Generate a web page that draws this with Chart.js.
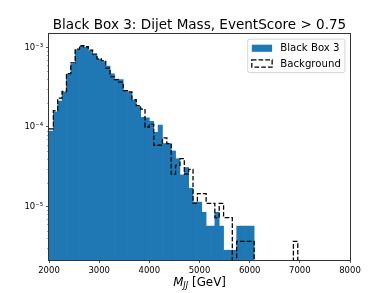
<!DOCTYPE html>
<html>
<head>
<meta charset="utf-8">
<script src="https://cdn.jsdelivr.net/npm/chart.js@4.4.0/dist/chart.umd.min.js"></script>
<style>
  html, body { margin: 0; padding: 0; background: #fff; }
  #wrap { width: 390px; height: 293px; }
</style>
</head>
<body>
<div id="wrap"><canvas id="chart" width="390" height="293"></canvas></div>
<script>
// ─── DATA ─────────────────────────────────────────────────
const titleText = 'Black Box 3: Dijet Mass, EventScore > 0.75';
const seriesLabels = ['Black Box 3', 'Background'];

// histogram bin edges in GeV (87 GeV wide)
const binEdges = [
    2000, 2087, 2174, 2261, 2348, 2435, 2522, 2609, 2696, 2783,
    2870, 2957, 3044, 3131, 3218, 3305, 3392, 3479, 3566, 3653,
    3740, 3827, 3914, 4001, 4088, 4175, 4262, 4349, 4436, 4523,
    4610, 4697, 4784, 4871, 4958, 5045, 5132, 5219, 5306, 5393,
    5480, 5567, 5654, 5741, 5828, 5915, 6002, 6089, 6176, 6263,
    6350, 6437, 6524, 6611, 6698, 6785, 6872, 6959
];

// normalised counts per bin
const blackBox = [
    8.9e-5, 1.55e-4, 2.12e-4, 2.75e-4, 4.61e-4, 6.18e-4, 9.33e-4, 1.026e-3, 1.003e-3, 9.07e-4,
    8.08e-4, 7.10e-4, 6.61e-4, 5.81e-4, 4.64e-4, 3.99e-4, 3.94e-4, 2.87e-4, 2.67e-4, 2.18e-4,
    1.81e-4, 1.32e-4, 1.30e-4, 1.18e-4, 8.6e-5, 1.06e-4, 6.2e-5, 6.2e-5, 5.0e-5, 4.0e-5,
    2.5e-5, 3.1e-5, 1.7e-5, 1.14e-5, 1.14e-5, 8.5e-6, 5.7e-6, 5.7e-6, 8.5e-6, 5.7e-6,
    2.84e-6, 2.84e-6, 2.84e-6, 5.7e-6, 5.7e-6, 5.7e-6, 5.7e-6, 0, 0, 0,
    0, 0, 0, 0, 0, 0, 0
];
const background = [
    9.47e-5, 1.61e-4, 2.30e-4, 2.79e-4, 4.68e-4, 6.36e-4, 9.52e-4, 1.047e-3, 1.017e-3, 9.25e-4,
    8.24e-4, 7.14e-4, 6.80e-4, 5.48e-4, 4.29e-4, 3.94e-4, 3.66e-4, 2.87e-4, 2.75e-4, 2.21e-4,
    1.86e-4, 1.68e-4, 1.00e-4, 1.08e-4, 5.9e-5, 5.9e-5, 7.3e-5, 6.2e-5, 2.56e-5, 3.3e-5,
    4.0e-5, 2.56e-5, 2.93e-5, 1.10e-5, 1.46e-5, 1.46e-5, 1.10e-5, 1.10e-5, 7.3e-6, 1.10e-5,
    7.3e-6, 7.3e-6, 0, 3.66e-6, 3.66e-6, 3.66e-6, 3.66e-6, 0, 0, 0,
    0, 0, 0, 0, 0, 0, 3.66e-6
];

const xTicks = [2000, 3000, 4000, 5000, 6000, 7000, 8000];
const yMajorTicks = [1e-5, 1e-4, 1e-3];
const Y_MIN = 2.14e-6, Y_MAX = 1.47e-3;

// ─── STYLE ────────────────────────────────────────────────
const BLUE = '#1f77b4';
const PT = 61 / 72;              // matplotlib points -> px at this size
const FONT = "'DejaVu Sans'";
const LW = 1.5 * PT;
const DASH = [3.7 * LW, 1.6 * LW];

Chart.defaults.font.family = FONT;
Chart.defaults.color = '#000';

const FLOOR = Y_MIN / 10;        // empty bins fall below the axis
const sup = { '-': '\u207B', '0': '\u2070', '1': '\u00B9', '2': '\u00B2', '3': '\u00B3', '4': '\u2074', '5': '\u2075', '6': '\u2076', '7': '\u2077', '8': '\u2078', '9': '\u2079' };
const expLabel = v => '10' + String(Math.round(Math.log10(v))).split('').map(c => sup[c]).join('');

const barData = blackBox.map((v, i) => ({
    x: (binEdges[i] + binEdges[i + 1]) / 2,
    y: v > 0 ? v : null,
}));
const stepData = background.map((v, i) => ({ x: binEdges[i], y: v > 0 ? v : FLOOR }));
stepData.push({ x: binEdges[binEdges.length - 1], y: FLOOR });

// title, axis label, minor ticks, frame and legend
const decor = {
    id: 'decor',
    afterDraw(chart) {
        const { ctx, chartArea: a } = chart;
        const yScale = chart.scales.y;
        const cx = (a.left + a.right) / 2;
        ctx.save();

        // minor log ticks
        ctx.strokeStyle = '#000';
        ctx.lineWidth = 0.6 * PT;
        for (let d = -6; d <= -3; d++) {
            for (let m = 2; m <= 9; m++) {
                const v = m * Math.pow(10, d);
                if (v < Y_MIN || v > Y_MAX) continue;
                const y = Math.round(yScale.getPixelForValue(v)) + 0.5;
                ctx.beginPath();
                ctx.moveTo(a.left - 2 * PT, y);
                ctx.lineTo(a.left, y);
                ctx.stroke();
            }
        }

        // frame
        ctx.strokeStyle = '#333';
        ctx.lineWidth = 1;
        ctx.strokeRect(a.left - 0.5, a.top - 0.5, a.right - a.left + 1, a.bottom - a.top + 1);

        // title
        ctx.fillStyle = '#000';
        ctx.textAlign = 'left';
        ctx.textBaseline = 'alphabetic';
        ctx.font = `${16 * PT}px ${FONT}`;
        const tw = ctx.measureText(titleText).width;
        ctx.fillText(titleText, cx - tw / 2, a.top - 5);

        // x axis label  M_JJ [GeV]
        const fs = 14 * PT;
        const fM = `italic ${fs}px ${FONT}`, fSub = `italic ${fs * 0.7}px ${FONT}`, fReg = `${fs}px ${FONT}`;
        ctx.font = fM; const wM = ctx.measureText('M').width;
        ctx.font = fSub; const wS = ctx.measureText('JJ').width;
        ctx.font = fReg; const wR = ctx.measureText(' [GeV]').width;
        let x0 = cx - (wM + wS + wR) / 2;
        const base = 285.5;
        ctx.font = fM; ctx.fillText('M', x0, base); x0 += wM;
        ctx.font = fSub; ctx.fillText('JJ', x0, base + 2.6); x0 += wS;
        ctx.font = fReg; ctx.fillText(' [GeV]', x0, base);

        // legend
        const lf = 12 * PT;
        ctx.font = `${lf}px ${FONT}`;
        const textW = Math.max(...seriesLabels.map(s => ctx.measureText(s).width));
        const pad = 0.4 * lf, hLen = 2 * lf, hH = 0.7 * lf, hPad = 0.8 * lf;
        const right = a.right - 0.5 * lf, top = a.top + 0.5 * lf;
        const w = pad + hLen + hPad + textW + pad;
        const rowGap = 1.5 * lf;
        const h = 2 * pad + rowGap + lf;
        const left = right - w;
        ctx.beginPath();
        ctx.roundRect(left, top, w, h, 0.2 * lf);
        ctx.fillStyle = 'rgba(255,255,255,0.8)';
        ctx.fill();
        ctx.strokeStyle = '#cccccc';
        ctx.lineWidth = 1 * PT;
        ctx.stroke();

        seriesLabels.forEach((s, i) => {
            const cy = top + pad + lf / 2 + i * rowGap;
            const hx = left + pad;
            if (i === 0) {
                ctx.fillStyle = BLUE;
                ctx.fillRect(hx, cy - hH / 2, hLen, hH);
            } else {
                ctx.strokeStyle = '#000';
                ctx.lineWidth = LW;
                ctx.setLineDash(DASH);
                ctx.strokeRect(hx, cy - hH / 2, hLen, hH);
                ctx.setLineDash([]);
            }
            ctx.fillStyle = '#000';
            ctx.textBaseline = 'middle';
            ctx.fillText(s, hx + hLen + hPad, cy + 0.5);
        });
        ctx.restore();
    }
};

new Chart(document.getElementById('chart'), {
    data: {
        datasets: [
            {
                type: 'bar',
                label: seriesLabels[0],
                data: barData,
                backgroundColor: BLUE,
                borderWidth: 0,
                barPercentage: 1,
                categoryPercentage: 1,
                order: 2,
            },
            {
                type: 'line',
                label: seriesLabels[1],
                data: stepData,
                stepped: 'before',
                borderColor: '#000',
                borderWidth: LW,
                borderDash: DASH,
                pointRadius: 0,
                fill: false,
                clip: 0,
                order: 1,
            },
        ]
    },
    options: {
        responsive: false,
        animation: false,
        devicePixelRatio: 1,
        layout: { padding: { left: 0, right: 40, top: 34, bottom: 0 } },
        plugins: { legend: { display: false }, title: { display: false }, tooltip: { enabled: false } },
        scales: {
            x: {
                type: 'linear',
                min: 2000, max: 8000,
                offset: false,
                afterBuildTicks: s => { s.ticks = xTicks.map(v => ({ value: v })); },
                afterFit: s => { s.height = 33; s.paddingLeft = 0; s.paddingRight = 0; },
                ticks: { font: { size: 10 * PT }, color: '#000', padding: 2.5, maxRotation: 0, autoSkip: false, callback: v => String(v) },
                grid: { offset: false, drawOnChartArea: false, drawTicks: true, tickLength: 3.5 * PT, tickColor: '#000', tickWidth: 0.8 * PT },
                border: { display: false },
            },
            y: {
                type: 'logarithmic',
                min: Y_MIN, max: Y_MAX,
                afterBuildTicks: s => { s.ticks = yMajorTicks.map(v => ({ value: v })); },
                afterFit: s => { s.width = 49; s.paddingTop = 0; s.paddingBottom = 0; },
                ticks: { font: { size: 10 * PT }, color: '#000', padding: 3, autoSkip: false, callback: v => expLabel(v) },
                grid: { drawOnChartArea: false, drawTicks: true, tickLength: 3.5 * PT, tickColor: '#000', tickWidth: 0.8 * PT },
                border: { display: false },
            }
        }
    },
    plugins: [decor]
});
</script>
</body>
</html>
